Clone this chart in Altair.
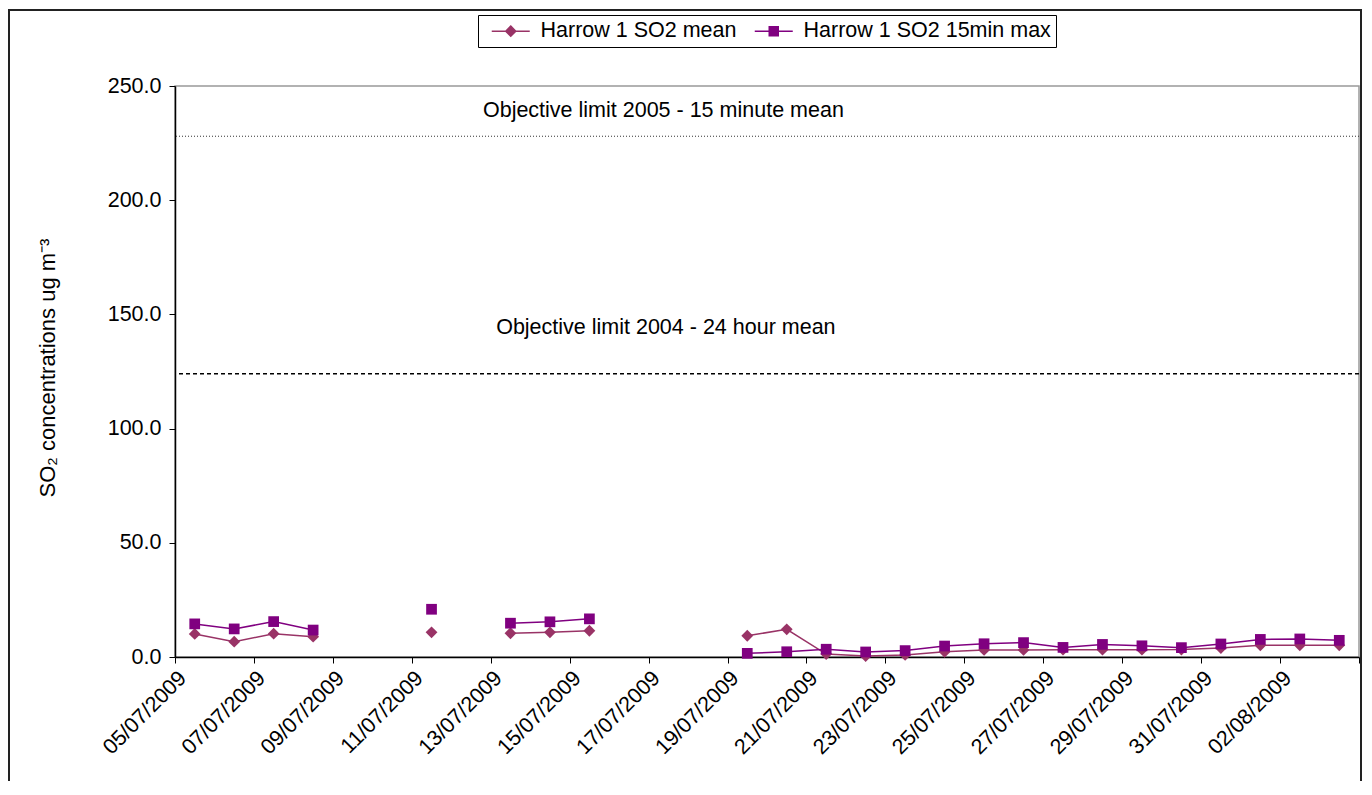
import altair as alt
import pandas as pd

FONT = "Liberation Sans"
FS = 21.5

# ---- data ----
day_labels = [f"2009-07-{d:02d}" for d in range(5, 32)] + ["2009-08-01", "2009-08-02", "2009-08-03"]
mean_values = [10.1, 6.7, 10.2, 8.9, None, None, 10.8, None, 10.4, 10.8, 11.5, None, None, None,
               9.3, 12.1, 1.3, 0.4, 0.9, 2.3, 3.1, 3.1, 3.2, 3.2, 3.2, 3.3, 3.9, 5.1, 5.1, 5.1]
max_values = [14.5, 12.3, 15.5, 11.8, None, None, 20.9, None, 14.8, 15.4, 16.7, None, None, None,
              1.6, 2.3, 3.4, 2.2, 2.8, 4.8, 5.8, 6.3, 4.2, 5.5, 4.9, 4.1, 5.7, 7.7, 7.9, 7.3]
series_names = ["Harrow 1 SO2 mean", "Harrow 1 SO2 15min max"]
series_colors = ["#993366", "#800080"]

limit_values = [228, 124]
limit_labels = ["Objective limit 2005 - 15 minute mean", "Objective limit 2004 - 24 hour mean"]
limit_label_dates = ["2009-07-17T09:00:00", "2009-07-17T10:30:00"]
limit_label_values = [239, 144]

tick_dates = [(2009, 7, d) for d in range(5, 32, 2)] + [(2009, 8, 2), (2009, 8, 4)]
y_ticks = [0, 50, 100, 150, 200, 250]

# ---- tables ----
rows = []
for name, vals in zip(series_names, [mean_values, max_values]):
    seg = 0
    for d, v in zip(day_labels, vals):
        if v is None:
            seg += 1
            continue
        rows.append({"date": d + "T12:00:00", "series": name, "value": v, "seg": seg})
df = pd.DataFrame(rows)

limits_df = pd.DataFrame({"value": limit_values})
labels_df = pd.DataFrame({"date": limit_label_dates, "value": limit_label_values, "label": limit_labels})

W, H = 1184, 571

x_axis = alt.Axis(
    values=[alt.DateTime(year=y, month=m, date=d) for (y, m, d) in tick_dates],
    labelExpr="(month(datum.value) == 7 && date(datum.value) == 4) ? '' : timeFormat(datum.value, '%d/%m/%Y')",
    labelAngle=-45, labelAlign="right", labelBaseline="top", labelPadding=4,
    labelFontSize=FS, labelColor="black", labelFont=FONT,
    tickSize=6, tickColor="black", domainColor="black", domainWidth=1.5,
    grid=False, title=None, labelOverlap=False,
)
y_axis = alt.Axis(
    values=y_ticks, format=".1f", grid=False,
    labelFontSize=FS, labelColor="black", labelFont=FONT, labelPadding=8,
    tickSize=6, tickColor="black", domainColor="black", domainWidth=1.5,
    title="SO₂ concentrations ug m⁻³", titleFontSize=22, titleFontWeight="normal",
    titleFont=FONT, titleColor="black", titleAngle=-90, titleX=-128, titleY=H / 2 - 4,
    titleAlign="center", titleBaseline="middle",
)

x_enc = alt.X("date:T", axis=x_axis, title=None,
              scale=alt.Scale(domain=[alt.DateTime(year=2009, month=7, date=5),
                                      alt.DateTime(year=2009, month=8, date=4)]))
y_enc = alt.Y("value:Q", axis=y_axis, title=None, scale=alt.Scale(domain=[0, 250]))

border = alt.Chart(pd.DataFrame({"a": [0]})).mark_rect(
    fill="transparent", stroke="#222222", strokeWidth=2, clip=False
).encode(x=alt.value(-166), x2=alt.value(W + 2), y=alt.value(-76), y2=alt.value(H + 200))

rule15 = alt.Chart(limits_df.iloc[[0]]).mark_rule(
    color="#333333", strokeWidth=1, strokeDash=[1, 2]).encode(y=y_enc)
rule24 = alt.Chart(limits_df.iloc[[1]]).mark_rule(
    color="black", strokeWidth=1.5, strokeDash=[4, 3]).encode(y=y_enc)

texts = alt.Chart(labels_df).mark_text(
    font=FONT, fontSize=FS, color="black", align="center", baseline="middle"
).encode(x=x_enc, y=y_enc, text="label:N")

layers = []
for name, color, shape, size in zip(series_names, series_colors, ["diamond", "square"], [140, 115]):
    sub = alt.Chart(df).transform_filter(alt.datum.series == name)
    layers.append(sub.mark_line(color=color, strokeWidth=1.5).encode(x=x_enc, y=y_enc, detail="seg:N"))
    layers.append(sub.mark_point(shape=shape, filled=True, size=size, color=color, opacity=1)
                  .encode(x=x_enc, y=y_enc))

legend_paths = [
    "M-3.8,0H3.8M0,-1L1,0L0,1L-1,0Z",
    "M-3.8,0H3.8M-0.9,-0.9H0.9V0.9H-0.9Z",
]
leg = alt.Legend(
    title=None, orient="none", legendX=303, legendY=-71, direction="horizontal",
    symbolSize=100, symbolStrokeWidth=1.5, symbolOffset=17, symbolOpacity=1,
    labelOffset=19, labelFontSize=FS, labelFont=FONT, labelColor="black", labelLimit=500,
    strokeColor="black", fillColor="white", padding=5, columnPadding=9,
)
legend_layer = alt.Chart(df).mark_point(size=0, opacity=1, strokeWidth=1.5).encode(
    x=x_enc, y=y_enc,
    fill=alt.Fill("series:N", scale=alt.Scale(domain=series_names, range=series_colors), legend=leg),
    stroke=alt.Stroke("series:N", scale=alt.Scale(domain=series_names, range=series_colors), legend=leg),
    shape=alt.Shape("series:N", scale=alt.Scale(domain=series_names, range=legend_paths), legend=leg),
)

chart = alt.layer(border, rule15, rule24, texts, *layers, legend_layer).properties(
    width=W, height=H,
    autosize=alt.AutoSizeParams(type="none"),
    padding={"left": 167, "top": 78, "right": 3, "bottom": 124},
).configure(font=FONT, background="white").configure_view(stroke="#999999", strokeWidth=1.5)

chart.save("out.html", embed_options={"renderer": "svg", "actions": False})
